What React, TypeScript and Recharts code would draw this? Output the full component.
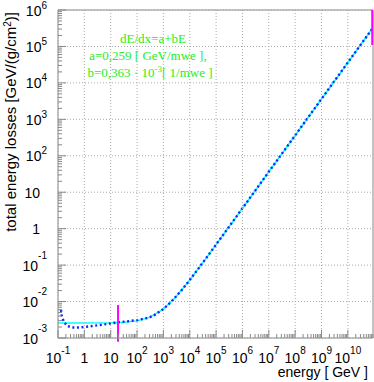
import { LineChart, Line, XAxis, YAxis, ReferenceLine } from 'recharts';

// muon energy [GeV] and total energy losses [GeV/(g/cm2)] (blue dotted)
const energy = [0.13, 0.136, 0.166, 0.223, 0.344, 0.7, 1.2, 2, 4.4, 10, 20, 50, 100, 200, 400, 1000, 2000, 5000, 1e4, 3e4, 1e5, 1e6, 1e7, 1e8, 1e9, 1e10, 8.4e10];
const totalLoss = [0.0059, 0.0043, 0.0028, 0.00214, 0.00195, 0.00195, 0.00203, 0.00214, 0.0023, 0.00251, 0.0027, 0.0029, 0.0031, 0.0034, 0.004, 0.0062, 0.0099, 0.0208, 0.039, 0.112, 0.366, 3.63, 36.3, 363, 3630, 36300, 3.05e5];

// fitted a + bE (cyan)
const fitEnergy = [0.1, 1, 10, 30, 100, 300, 1000, 3000, 1e4, 3e4, 1e5, 1e6, 1e10, 8.4e10];
const fitLoss = [0.00259, 0.00259, 0.00263, 0.0027, 0.00295, 0.00368, 0.00622, 0.0135, 0.0389, 0.1115, 0.366, 3.63, 36300, 3.05e5];

// vertical markers (magenta)
const markerLow = { e: 19, from: 0.0080, to: 0.00079 };
const markerHigh = { e: 8.4e10, from: 1.1e5, to: 1e6 };

const xDecades = [-1, 0, 1, 2, 3, 4, 5, 6, 7, 8, 9, 10];
const yDecades = [-3, -2, -1, 0, 1, 2, 3, 4, 5, 6];
const X_MAX = 9e10;

const withMinors = (decades: number[], max: number) => {
  const out: number[] = [];
  decades.forEach((k) => {
    for (let m = 1; m <= 9; m++) {
      const v = Number((m * Math.pow(10, k)).toPrecision(3));
      if (v <= max * 1.0001) out.push(v);
    }
  });
  return out;
};
const xTicks = withMinors(xDecades, X_MAX);
const yTicks = withMinors(yDecades, 1e6);

const fitData = fitEnergy.map((e, i) => ({ e, v: fitLoss[i] }));
const lossData = energy.map((e, i) => ({ e, v: totalLoss[i] }));

const W = 374;
const H = 382;
const PLOT_TOP = 10;
const PLOT_RIGHT = 373;
const AXIS = '#888';
const GRID = '#aaa';
const FONT = '"Liberation Sans", Arial, Helvetica, sans-serif';
const SERIF = '"Liberation Serif", "Times New Roman", serif';
const GREEN = '#22ee22';

const decadeOf = (v: number) => {
  const lg = Math.log10(v);
  const k = Math.round(lg);
  return { k, major: Math.abs(lg - k) < 1e-6 };
};

function XTick(props: any) {
  const { x, y, payload } = props;
  const { k, major } = decadeOf(payload.value);
  if (!major) return <line x1={x} y1={y} x2={x} y2={y - 4} stroke={AXIS} />;
  return (
    <g>
      <line x1={x} y1={y} x2={x} y2={PLOT_TOP} stroke={GRID} strokeDasharray="1 2" />
      <line x1={x} y1={y} x2={x} y2={y - 8} stroke={AXIS} />
      <text x={x} y={y + 24.5} textAnchor="middle" fontSize={14} fontFamily={FONT} fill="#000">
        {k === 0 ? '1' : k === 1 ? '10' : (
          <>10<tspan dy={-9} fontSize={10}>{k}</tspan></>
        )}
      </text>
    </g>
  );
}

function YTick(props: any) {
  const { x, y, payload } = props;
  const { k, major } = decadeOf(payload.value);
  if (!major) return <line x1={x} y1={y} x2={x + 4} y2={y} stroke={AXIS} />;
  const plain = k === 0 || k === 1;
  return (
    <g>
      <line x1={x} y1={y} x2={PLOT_RIGHT} y2={y} stroke={GRID} strokeDasharray="1 2" />
      <line x1={x} y1={y} x2={x + 8} y2={y} stroke={AXIS} />
      <text x={plain ? x - 18 : x - 11} y={y + 5.5} textAnchor="end" fontSize={14} fontFamily={FONT} fill="#000">
        {plain ? (k === 0 ? '1' : '10') : (
          <>10<tspan dy={k < 0 ? -12 : -7} fontSize={10}>{k}</tspan></>
        )}
      </text>
    </g>
  );
}

export default function App() {
  return (
    <div style={{ position: 'absolute', left: 0, top: 0, width: W, height: H, background: '#fff' }}>
      <LineChart width={W} height={H} margin={{ top: PLOT_TOP, right: W - PLOT_RIGHT, bottom: 0, left: 0 }}>
        <XAxis
          dataKey="e"
          type="number"
          scale="log"
          domain={[0.1, X_MAX]}
          allowDataOverflow
          ticks={xTicks}
          interval={0}
          tick={<XTick />}
          tickLine={false}
          tickSize={0}
          tickMargin={0}
          height={44}
          axisLine={{ stroke: AXIS }}
        />
        <YAxis
          dataKey="v"
          type="number"
          scale="log"
          domain={[0.001, 1e6]}
          allowDataOverflow
          ticks={yTicks}
          interval={0}
          tick={<YTick />}
          tickLine={false}
          tickSize={0}
          tickMargin={0}
          width={58}
          axisLine={{ stroke: AXIS }}
        />
        <ReferenceLine y={1e6} stroke={AXIS} />
        <ReferenceLine x={X_MAX} stroke={AXIS} />
        <Line data={fitData} dataKey="v" type="linear" stroke="#00ffff" strokeWidth={1.5} dot={false} isAnimationActive={false} />
        <Line data={lossData} dataKey="v" type="linear" stroke="#0a28ff" strokeWidth={2.4} strokeDasharray="2 2.6" dot={false} isAnimationActive={false} />
        <ReferenceLine
          segment={[{ x: markerLow.e, y: markerLow.from }, { x: markerLow.e, y: markerLow.to }]}
          stroke="#ff00ff"
          strokeWidth={2}
          ifOverflow="visible"
        />
        <ReferenceLine
          segment={[{ x: markerHigh.e, y: markerHigh.from }, { x: markerHigh.e, y: markerHigh.to }]}
          stroke="#ff00ff"
          strokeWidth={2}
          ifOverflow="visible"
        />
      </LineChart>
      <svg width={W} height={H} style={{ position: 'absolute', left: 0, top: 0, pointerEvents: 'none' }}>
        <text x={368} y={377} textAnchor="end" fontSize={14} fontFamily={FONT} fill="#000">energy [ GeV ]</text>
        <text transform="translate(16, 12) rotate(-90)" textAnchor="end" fontSize={15} fontFamily={FONT} fill="#000">
          total energy losses [GeV/(g/cm<tspan dy={-5} fontSize={10}>2</tspan><tspan dy={5}>)]</tspan>
        </text>
        <g fontFamily={SERIF} fontSize={13} fill={GREEN}>
          <text x={153} y={42.5} textAnchor="middle">dE/dx=a+bE</text>
          <text x={148} y={59.5} textAnchor="middle">a=0,259 [ GeV/mwe ],</text>
          <text x={150} y={76.5} textAnchor="middle">
            b=0,363 · 10<tspan dy={-5} fontSize={9}>-3</tspan><tspan dy={5}>[ 1/mwe ]</tspan>
          </text>
        </g>
      </svg>
    </div>
  );
}
